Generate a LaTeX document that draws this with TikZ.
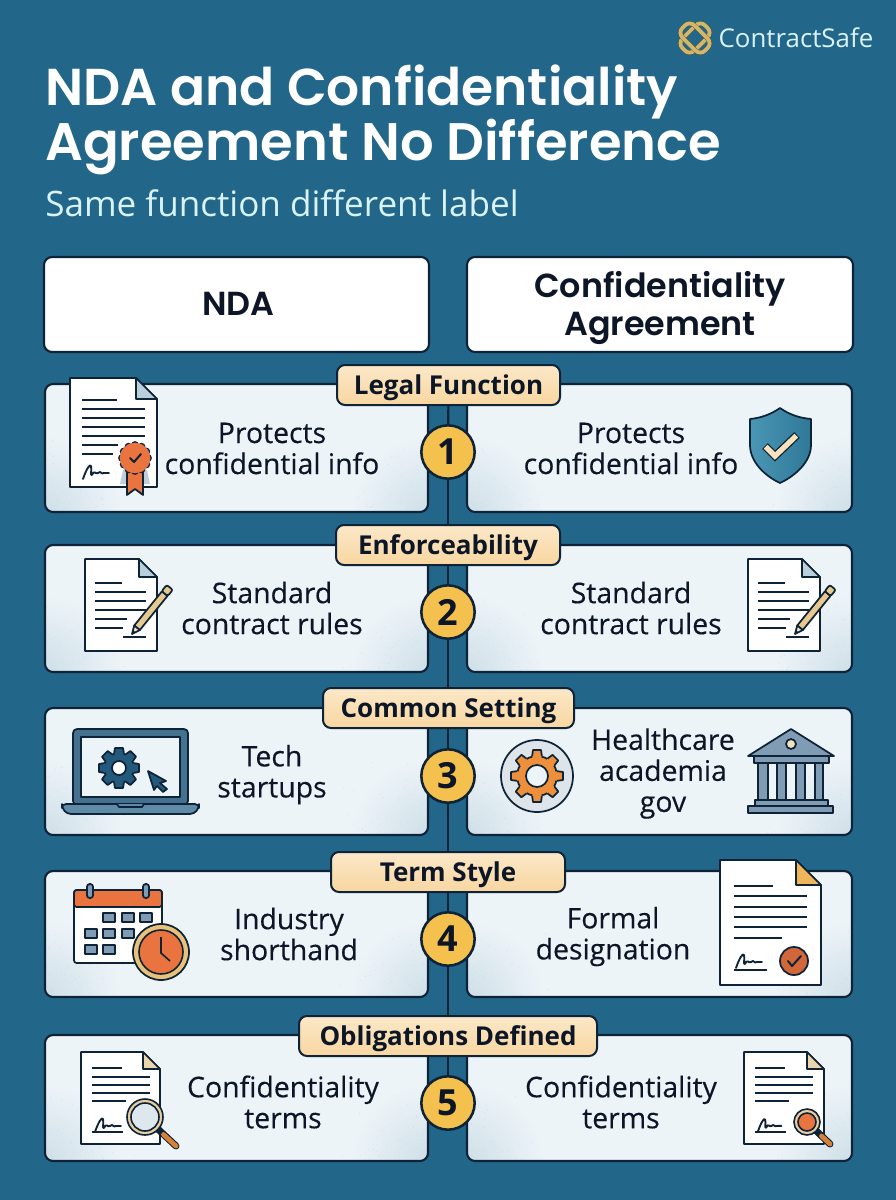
\documentclass[tikz,border=0pt]{standalone}
\usepackage{fontspec}
\setmainfont{Poppins}[BoldFont={Poppins SemiBold}]
\newfontfamily\bodyfont{Open Sans}
\newfontfamily\bodymed{Open Sans}[FakeBold=0.3]
\definecolor{bgc}{HTML}{22678A}
\definecolor{ink}{HTML}{0E2238}
\definecolor{txt}{HTML}{0C1626}
\definecolor{cardc}{HTML}{EDF4F8}
\definecolor{speck}{HTML}{CFDFE8}
\definecolor{amber}{HTML}{F4C04E}
\definecolor{orng}{HTML}{E9743F}
\definecolor{orng2}{HTML}{EE8F3C}
\definecolor{steel}{HTML}{7F9CB4}
\definecolor{foldb}{HTML}{B9CFD9}
\definecolor{cream}{HTML}{E9CF9F}
\definecolor{navy}{HTML}{23597A}
\definecolor{tagtop}{HTML}{FBE8C8}
\definecolor{tagbot}{HTML}{F8D6A0}
\definecolor{penc}{HTML}{E8C98D}
\definecolor{penl}{HTML}{F3E0BC}
\definecolor{logoc}{HTML}{D0B66F}
\definecolor{logod}{HTML}{5A4A1E}
\definecolor{pale}{HTML}{D9F3F5}
\definecolor{shl}{HTML}{4A96B4}
\definecolor{shr}{HTML}{2F7898}
\definecolor{chk}{HTML}{F6E3BD}
\definecolor{lapb}{HTML}{5F8BA8}
\definecolor{gearbg}{HTML}{DDE5EA}
\definecolor{clockc}{HTML}{E9C27A}
\definecolor{foldo}{HTML}{EEB55A}
\definecolor{foldt}{HTML}{EAD5AC}
\definecolor{lens}{HTML}{DDE8EE}
\newcommand\tg[1]{\raisebox{-6.8pt}[0pt][0pt]{#1}}
\tikzset{
 x=0.75pt,y=-0.75pt,
 cardfill/.style={rectangle,rounded corners=6pt,fill=cardc,inner sep=0pt},
 cardline/.style={rectangle,rounded corners=6pt,draw=ink,line width=1.6pt,inner sep=0pt},
 headbox/.style={rectangle,rounded corners=6pt,fill=white,draw=ink,line width=1.6pt,inner sep=0pt},
 tagbox/.style={rectangle,rounded corners=6pt,top color=tagtop,bottom color=tagbot,draw=ink,line width=1.5pt,inner sep=0pt,minimum height=30pt,font=\fontsize{19.5}{20}\selectfont\bfseries\bodyfont,text=txt},
 numc/.style={circle,fill=amber,draw=ink,line width=1.9pt,minimum size=40pt,inner sep=0pt,font=\fontsize{27}{27}\selectfont\bfseries\bodyfont,text=txt},
 body/.style={align=center,inner sep=0pt,text=txt,font=\fontsize{21.3}{23.25}\selectfont\bodymed},
 headt/.style={align=center,inner sep=0pt,text=txt,font=\fontsize{25}{28.5}\selectfont\bfseries},
 spine/.style={draw=ink,line width=1.6pt},
 ln/.style={draw=ink,line width=1.5pt},
 ic/.style={draw=ink,line width=1.3pt,line join=round},
}
\pgfdeclarelayer{back}\pgfsetlayers{back,main}
\newcommand\card[5]{%
 \node[cardfill,minimum width=#4*0.75pt,minimum height=#5*0.75pt] (#1) at (#2,#3) {};
 \begin{scope}
 \clip[rounded corners=6pt] (#1.south west) rectangle (#1.north east);
 \shade[inner color=speck,outer color=cardc] (#1.south west) circle (58pt);
 \shade[inner color=speck,outer color=cardc] (#1.south east) circle (58pt);
 \foreach \i in {1,...,70}{
  \pgfmathsetmacro\da{70*rnd*rnd}\pgfmathsetmacro\db{60*rnd*rnd}
  \fill[speck,opacity=.7] ([xshift=\da pt,yshift=\db pt]#1.south west) circle (.45pt);
  \pgfmathsetmacro\da{70*rnd*rnd}\pgfmathsetmacro\db{60*rnd*rnd}
  \fill[speck,opacity=.7] ([xshift=-\da pt,yshift=\db pt]#1.south east) circle (.45pt);
 }
 \end{scope}
 \node[cardline,minimum width=#4*0.75pt,minimum height=#5*0.75pt] at (#2,#3) {};
}
\newcommand\docshape[6]{%
 \draw[ic,fill=white] (#1,#2) -- ({#3-#5},#2) -- (#3,{#2+#5}) -- (#3,#4) -- (#1,#4) -- cycle;
 \draw[ic,fill=#6] ({#3-#5},#2) -- ({#3-#5},{#2+#5}) -- (#3,{#2+#5}) -- cycle;
}
\newcommand\rules[3]{\foreach \yy in {#3}{\draw[ln] (#1,\yy) -- (#2,\yy);}}
\newcommand\sig[3]{\begin{scope}[shift={(#1,#2)},scale=#3]
 \draw[ink,line width=1.4pt,line cap=round,line join=round] (0,7) .. controls (3,-2) and (7,-9) .. (8,-6) .. controls (9,-2) and (7,4) .. (9,3) .. controls (12,-3) and (12,3) .. (15,1) .. controls (18,-2) and (18,3) .. (21,1) -- (26,1);
\end{scope}}
\newcommand\pencil[2]{\begin{scope}[shift={(#1,#2)},rotate=51]
 \draw[ic,fill=penc] (8,-3.6) -- (52,-3.6) -- (52,3.6) -- (8,3.6) -- cycle;
 \draw[ic,fill=penl] (0,0) -- (8,-3.6) -- (8,3.6) -- cycle;
 \fill[ink] (0,0) -- (3.5,-1.7) -- (3.5,1.7) -- cycle;
 \draw[ic,fill=penc,rounded corners=1.5pt] (52,-3.9) -- (60,-3.9) -- (60,3.9) -- (52,3.9) -- cycle;
\end{scope}}
\newcommand\gear[8]{\begin{scope}[shift={(#1,#2)}]
 \foreach \a in {1,...,#5}{\fill[rotate=\a*360/#5,#7,rounded corners=1pt] (#3-2,-5) -- (#3+#4,-4) -- (#3+#4,4) -- (#3-2,5) -- cycle;}
 \draw[ic,fill=#7] (0,0) circle (#3);
 \foreach \a in {1,...,#5}{\fill[rotate=\a*360/#5,#7,rounded corners=1pt] (#3-2,-5) -- (#3+#4,-4) -- (#3+#4,4) -- (#3-2,5) -- cycle;}
 \foreach \a in {1,...,#5}{\draw[ic,rotate=\a*360/#5] (#3-.3,-4.9) -- (#3+#4,-4) -- (#3+#4,4) -- (#3-.3,4.9);}
 \draw[ic,fill=#8] (0,0) circle (#6);
\end{scope}}
\newcommand\seal[4]{\begin{scope}[shift={(#1,#2)}]
 \foreach \a in {0,30,...,330}{\draw[ic,fill=#4] (\a:#3-2) circle (3);}
 \fill[#4] (0,0) circle (#3);
 \foreach \a in {0,30,...,330}{\fill[#4] (\a:#3-2) circle (2.4);}
 \draw[ink,line width=1.5pt,line cap=round,line join=round] (-5,0) -- (-1,4) -- (6,-4);
\end{scope}}
\newcommand\magnifier[6]{%
 \draw[ink,line width=5.2pt,line cap=round] (#1,#2) -- (#5,#6);
 \draw[orng2!90!black,line width=3.6pt,line cap=round] ({(#1+#5)/2+3},{(#2+#6)/2+3}) -- (#5,#6);
 \draw[ink,fill=cream,line width=1.2pt] (#1,#2) circle (#3);
 \draw[ink,fill=#4,line width=1.2pt] (#1,#2) circle ({#3-4});
}
\begin{document}
\begin{tikzpicture}
\useasboundingbox (0,0) rectangle (896,1200);
\begin{pgfonlayer}{back}
\fill[bgc] (0,0) rectangle (896,1200);
\end{pgfonlayer}
\pgfmathsetseed{4242}

% logo
\begin{scope}[shift={(695,38)}]
 \foreach \r in {45,-45}{
 \draw[logod,line width=3.4pt,rotate=\r,rounded corners=5pt] (-16,-8.5) rectangle (16,8.5);
 \draw[logoc,line width=2.9pt,rotate=\r,rounded corners=5pt] (-16,-8.5) rectangle (16,8.5);}
\end{scope}
\node[inner sep=0pt,text=pale,font=\fontsize{19.4}{20}\selectfont\bodyfont] (logo) at (796,38) {ContractSafe};

% title
\node[anchor=base west,inner sep=0pt,text=white,font=\fontsize{38.9}{42}\selectfont\bfseries] (t1) at (45,105) {NDA and Confidentiality};
\node[anchor=base west,inner sep=0pt,text=white,font=\fontsize{39.6}{42}\selectfont\bfseries] (t2) at (45,160) {Agreement No Difference};
\node[anchor=base west,inner sep=0pt,text=pale,font=\fontsize{26.3}{28}\selectfont\bodyfont] (sub) at (45,216) {Same function different label};

% header boxes
\node[headbox,minimum width=385*0.75pt,minimum height=95*0.75pt] (hl) at (236.5,304.5) {};
\node[headbox,minimum width=386*0.75pt,minimum height=95*0.75pt] (hr) at (660,304.5) {};
\node[headt] (hlt) at (238.5,304) {NDA};
\node[headt] (hrt) at (660,308) {Confidentiality\\Agreement};

% cards
\card{l1}{236.5}{448}{383}{128}\card{r1}{659.5}{448}{385}{128}
\card{l2}{236.5}{608.5}{383}{127}\card{r2}{659.5}{608.5}{385}{127}
\card{l3}{236.5}{771.5}{383}{127}\card{r3}{659.5}{771.5}{385}{127}
\card{l4}{236.5}{934}{383}{126}\card{r4}{659.5}{934}{385}{126}
\card{l5}{236.5}{1098}{383}{126}\card{r5}{659.5}{1098}{385}{126}

% spine nodes
\node[numc] (n1) at (448,452) {1};
\node[numc] (n2) at (448,612) {2};
\node[numc] (n3) at (448,776) {3};
\node[numc] (n4) at (448,939) {4};
\node[numc] (n5) at (448,1103) {5};

% tags
\node[tagbox,minimum width=223*0.75pt] (g1) at (448.5,385) {\tg{Legal Function}};
\node[tagbox,minimum width=224*0.75pt] (g2) at (448,545) {\tg{Enforceability}};
\node[tagbox,minimum width=251*0.75pt] (g3) at (448.5,708) {\tg{Common Setting}};
\node[tagbox,minimum width=234*0.75pt] (g4) at (448,872) {\tg{Term Style}};
\node[tagbox,minimum width=298*0.75pt] (g5) at (448,1036) {\tg{Obligations Defined}};
\begin{pgfonlayer}{back}
\draw[spine] (g1) -- (n1);
\draw[spine] (n1) -- (n2);
\draw[spine] (n2) -- (n3);
\draw[spine] (n3) -- (n4);
\draw[spine] (n4) -- (n5);
\end{pgfonlayer}

% texts
\node[body] (a1) at (272,448.5) {Protects\\confidential info};
\node[body] (b1) at (631,448.5) {Protects\\confidential info};
\node[body] (a2) at (272,608) {Standard\\contract rules};
\node[body] (b2) at (631,608) {Standard\\contract rules};
\node[body] (a3) at (272,774.5) {Tech\\startups};
\node[body] (b3) at (663,773.5) {Healthcare\\academia\\gov};
\node[body] (a4) at (289,934) {Industry\\shorthand};
\node[body] (b4) at (613,936.5) {Formal\\designation};
\node[body] (a5) at (283,1102) {Confidentiality\\terms};
\node[body] (b5) at (621,1102) {Confidentiality\\terms};

% icon 1L certificate
\docshape{70}{378}{157}{487}{21}{foldb}
\rules{82}{117}{400}\rules{82}{145}{409,418,427,436}\rules{82}{118}{445}\rules{82}{113}{454}
\sig{83}{472}{1}
\fill[steel!50] (123,470) -- (147,470) -- (150,484) -- (120,484) -- cycle;
\draw[ic,fill=orng] (127,470) -- (143,470) -- (143,495) -- (135,489) -- (127,495) -- cycle;
\seal{135}{458}{15}{orng}

% icon 1R shield
\draw[draw=ink,line width=1.3pt,left color=shl,right color=shr,line join=round] (780,408) .. controls (770,415) and (760,418) .. (750,419) -- (750,445) .. controls (750,462) and (765,476) .. (780,483) .. controls (795,476) and (811,462) .. (811,445) -- (811,419) .. controls (800,418) and (790,415) .. (780,408) -- cycle;
\draw[ink,line width=6pt,line join=miter] (765,446) -- (775,456) -- (797,435);
\draw[chk,line width=4pt,line join=miter] (765.7,446.7) -- (775,456) -- (796.3,435.7);

% icon 2L, 2R
\foreach \dx in {0,663}{
\begin{scope}[xshift=\dx*0.75pt]
\docshape{85}{559}{157}{651}{18}{foldb}
\rules{95}{122}{583}\rules{95}{146}{592,601,610}\rules{95}{127}{619}\rules{95}{123}{628}\rules{123}{146}{637}
\pencil{132}{634}
\end{scope}}

% icon 3L laptop
\draw[ic,fill=navy!85!white,rounded corners=3pt] (73,805) -- (73,729) -- (188,729) -- (188,805) -- cycle;
\draw[ic,fill=cardc] (81,737) rectangle (180,797);
\draw[ic,fill=lapb,rounded corners=3pt] (62,804) -- (199,804) -- (199,808) -- (194,814) -- (67,814) -- (62,808) -- cycle;
\draw[ic,fill=lapb] (117,804) -- (119,807) -- (142,807) -- (144,804);
\gear{119}{768}{15}{5}{8}{7}{navy}{white}
\draw[ic,fill=navy] (148,771) -- (166,781) -- (160,783) -- (167,789) -- (163,792) -- (157,786) -- (154,790) -- cycle;

% icon 3R gear
\draw[ink,line width=1.3pt,fill=gearbg] (537,776) circle (36);
\gear{537}{776}{20}{6}{8}{11}{orng2}{cardc}

% icon 3R bank
\draw[ic,fill=steel] (791,729) -- (834,756) -- (748,756) -- cycle;
\draw[ic,fill=penl] (791,744) circle (5);
\draw[ic,fill=steel] (754,756) rectangle (829,763);
\foreach \a/\b in {758/768,777/786,796/805,815/823}{\draw[ic,fill=steel] (\a,763) rectangle (\b,800);}
\draw[ic,fill=steel] (755,800) rectangle (828,806);
\draw[ic,fill=steel] (748,806) rectangle (833,813);

% icon 4L calendar
\draw[ic,fill=white,rounded corners=2pt] (74,890) rectangle (162,963);
\draw[ic,fill=orng,rounded corners=2pt] (74,907) -- (74,890) -- (162,890) -- (162,907) -- cycle;
\foreach \x in {90,146}{\draw[ic,fill=steel,rounded corners=2pt] ({\x-3},884) rectangle ({\x+3},898);}
\foreach \x/\y in {103/918,122/918,140/918,85/934,103/934,122/934,85/950,103/950}{\draw[ic,fill=steel] (\x,{\y-5}) rectangle ({\x+12},{\y+4});}
\draw[ink,line width=1.3pt,fill=clockc] (161,952) circle (28);
\draw[ink,line width=1.2pt,fill=orng] (161,952) circle (22);
\draw[ink,line width=1.2pt] (161,937) -- (161,953) -- (170,961);

% icon 4R
\docshape{720}{860}{821}{985}{25}{foldo}
\rules{734}{773}{886}\rules{734}{807}{896,907,917,927}\rules{734}{782}{938}
\sig{736}{961}{1}\rules{734}{767}{970}
\draw[ink,line width=1.3pt,fill=orng!90!black] (794,961) circle (14);
\draw[ink,line width=1.5pt,line cap=round,line join=round] (788,961) -- (792,966) -- (801,956);

% icon 5L
\docshape{81}{1052}{160}{1144}{17}{foldt}
\rules{92}{122}{1068}\rules{92}{150}{1077,1085,1093}\rules{92}{126}{1101}
\sig{95}{1125}{1}\rules{92}{123}{1132}
\magnifier{145}{1117}{18}{lens}{176}{1146}

% icon 5R
\docshape{744}{1052}{824}{1144}{17}{foldt}
\rules{755}{785}{1068}\rules{755}{813}{1077,1085,1093}\rules{755}{789}{1101}
\sig{758}{1125}{.9}\rules{755}{786}{1132}
\magnifier{807}{1122}{13}{orng}{830}{1144}
\end{tikzpicture}
\end{document}
